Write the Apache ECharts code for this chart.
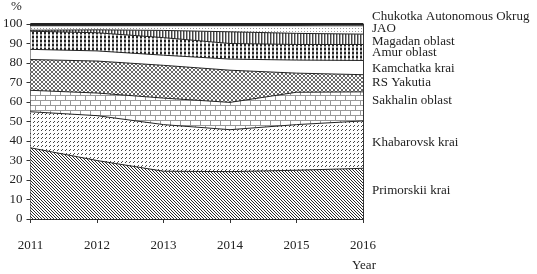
<!DOCTYPE html>
<html>
<head>
<meta charset="utf-8">
<script src="https://cdn.jsdelivr.net/npm/echarts@6/dist/echarts.min.js"></script>
<style>
    html, body { margin: 0; padding: 0; background: #fff; }
    #main { width: 537px; height: 274px; }
</style>
</head>
<body>
<div id="main"></div>
<script>
// 年份
var years = ['2011', '2012', '2013', '2014', '2015', '2016'];
// 各地区占比 (%)，从下往上堆叠
var primorskii = [36.5, 30, 24.5, 24.3, 25, 26];
var khabarovsk = [18.5, 23, 23.9, 21.5, 23.4, 24.3];
var sakhalin = [11, 11.6, 13.6, 14, 16.6, 14.9];
var yakutia = [15.8, 16.4, 16.8, 16.5, 9.8, 8.8];
var kamchatka = [5.2, 5.2, 5.2, 5.7, 6.7, 7.3];
var amur = [9.3, 9.3, 9, 8, 8, 8.2];
var magadan = [0.5, 1.5, 3.7, 6, 5.7, 5.3];
var jao = [2.3, 2.1, 2.4, 3.1, 3.9, 4.3];
var chukotka = [0.9, 0.9, 0.9, 0.9, 0.9, 0.9];
var yTicks = [0, 10, 20, 30, 40, 50, 60, 70, 80, 90, 100];

var FONT = '"Liberation Serif", "DejaVu Serif", serif';

// 生成平铺填充图案
function pattern(w, h, draw) {
    var c = document.createElement('canvas');
    c.width = w;
    c.height = h;
    var ctx = c.getContext('2d');
    ctx.fillStyle = '#fff';
    ctx.fillRect(0, 0, w, h);
    draw(ctx);
    return { image: c, repeat: 'repeat' };
}
function px(ctx, color, x, y, w, h) {
    ctx.fillStyle = color;
    ctx.fillRect(x, y, w || 1, h || 1);
}

var fills = {
    // 斜线 \\\
    primorskii: pattern(3, 3, function(ctx) {
        for (var i = 0; i < 3; i++) px(ctx, '#2a2a2a', i, i);
    }),
    // 短斜线 /
    khabarovsk: pattern(4, 4, function(ctx) {
        px(ctx, '#444', 1, 2);
        px(ctx, '#444', 2, 1);
    }),
    // 砖墙
    sakhalin: pattern(10, 10, function(ctx) {
        px(ctx, '#999', 0, 0, 10, 1);
        px(ctx, '#999', 0, 5, 10, 1);
        px(ctx, '#999', 0, 0, 1, 5);
        px(ctx, '#999', 5, 5, 1, 5);
    }),
    // 细网格
    yakutia: pattern(4, 4, function(ctx) {
        for (var i = 0; i < 4; i++) {
            px(ctx, '#6a6a6a', i, i);
            px(ctx, '#6a6a6a', 3 - i, i);
        }
    }),
    kamchatka: '#fff',
    // 方格
    amur: pattern(4, 4, function(ctx) {
        px(ctx, '#222', 0, 0, 2, 2);
        px(ctx, '#999', 0, 2, 2, 2);
    }),
    // 竖线
    magadan: pattern(3, 1, function(ctx) {
        px(ctx, '#444', 0, 0);
        px(ctx, '#aaa', 1, 0);
    }),
    // 点
    jao: pattern(3, 3, function(ctx) {
        px(ctx, '#999', 1, 1);
    }),
    chukotka: '#222'
};

var layers = [
    { name: 'Primorskii krai', data: primorskii, fill: fills.primorskii },
    { name: 'Khabarovsk krai', data: khabarovsk, fill: fills.khabarovsk },
    { name: 'Sakhalin oblast', data: sakhalin, fill: fills.sakhalin },
    { name: 'RS Yakutia', data: yakutia, fill: fills.yakutia },
    { name: 'Kamchatka krai', data: kamchatka, fill: fills.kamchatka },
    { name: 'Amur oblast', data: amur, fill: fills.amur },
    { name: 'Magadan oblast', data: magadan, fill: fills.magadan },
    { name: 'JAO', data: jao, fill: fills.jao },
    { name: 'Chukotka Autonomous Okrug', data: chukotka, fill: fills.chukotka }
];

var series = layers.map(function(l, i) {
    return {
        name: l.name,
        type: 'line',
        stack: 'total',
        data: l.data,
        symbol: 'none',
        animation: false,
        lineStyle: { color: '#222', width: i === layers.length - 1 ? 2 : 1 },
        areaStyle: { color: l.fill, opacity: 1 }
    };
});

// 右侧标签位置 (像素)
var labelY = [191, 142.7, 101, 83.3, 69.3, 53.3, 41.7, 29.3, 17.3];
var graphics = layers.map(function(l, i) {
    return {
        type: 'text',
        left: 372,
        top: labelY[i] - 7,
        style: { text: l.name, font: '13px ' + FONT, fill: '#222' }
    };
});
graphics.push({ type: 'text', left: 11, top: 0, style: { text: '%', font: '13px ' + FONT, fill: '#222' } });
graphics.push({ type: 'text', left: 352, top: 259, style: { text: 'Year', font: '13px ' + FONT, fill: '#222' } });

var myChart = echarts.init(document.getElementById('main'), null, { renderer: 'canvas' });
var option = {
    backgroundColor: '#fff',
    animation: false,
    grid: { left: 29, right: 174, top: 24, bottom: 55 },
    xAxis: {
        type: 'category',
        data: years,
        boundaryGap: false,
        axisLine: { lineStyle: { color: '#333', width: 1 } },
        axisTick: { show: true, length: 4, lineStyle: { color: '#333' } },
        axisLabel: { margin: 20, fontFamily: FONT, fontSize: 13, color: '#222' },
        splitLine: { show: false }
    },
    yAxis: [{
        type: 'value',
        min: yTicks[0],
        max: yTicks[yTicks.length - 1],
        interval: 10,
        axisLine: { show: true, lineStyle: { color: '#333', width: 1 } },
        axisTick: { show: true, length: 4, lineStyle: { color: '#333' } },
        axisLabel: { margin: 8, fontFamily: FONT, fontSize: 13, color: '#222' },
        splitLine: { show: false }
    }, {
        type: 'value',
        position: 'right',
        min: 0,
        max: 100,
        axisLine: { show: true, lineStyle: { color: '#333', width: 1 } },
        axisTick: { show: false },
        axisLabel: { show: false },
        splitLine: { show: false }
    }],
    graphic: graphics,
    series: series
};
myChart.setOption(option);
</script>
</body>
</html>
